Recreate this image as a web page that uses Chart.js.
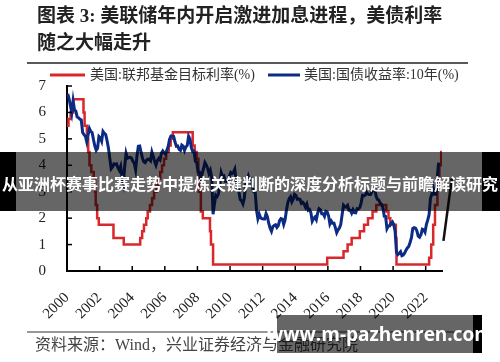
<!DOCTYPE html>
<html>
<head>
<meta charset="utf-8">
<script src="https://cdn.jsdelivr.net/npm/chart.js@4.4.1/dist/chart.umd.min.js"></script>
<style>
  html, body { margin: 0; padding: 0; background: #fff; }
  #wrap { width: 500px; height: 362px; position: relative; }
</style>
</head>
<body>
<div id="wrap"><canvas id="c" width="500" height="362"></canvas></div>
<script>
const titleLines = ['图表 3: 美联储年内开启激进加息进程，美债利率', '随之大幅走升'];
const sourceText = '资料来源：Wind，兴业证券经济与金融研究院';
const bannerText = '从亚洲杯赛事比赛走势中提炼关键判断的深度分析标题与前瞻解读研究';
const siteText = 'www.m-pazhenren.com';
const seriesNames = ['美国:联邦基金目标利率(%)', '美国:国债收益率:10年(%)'];

// fed funds target: date of change (decimal year) and new level
const fedDates = [2000.0, 2000.09, 2000.22, 2000.38, 2001.01, 2001.08, 2001.22, 2001.3, 2001.38, 2001.49,
  2001.64, 2001.72, 2001.76, 2001.85, 2001.95, 2002.85, 2003.48, 2004.49, 2004.61, 2004.72,
  2004.86, 2004.95, 2005.09, 2005.22, 2005.34, 2005.49, 2005.61, 2005.72, 2005.83, 2005.95,
  2006.08, 2006.24, 2006.36, 2006.49, 2007.71, 2007.83, 2007.95, 2008.06, 2008.08, 2008.21,
  2008.33, 2008.77, 2008.83, 2008.96, 2015.96, 2016.96, 2017.21, 2017.46, 2017.96, 2018.22,
  2018.46, 2018.74, 2018.97, 2019.58, 2019.72, 2019.83, 2020.17, 2020.21, 2022.21, 2022.34,
  2022.46, 2022.57, 2022.72, 2022.84, 2022.95, 2022.99];
const fedRates = [5.5, 5.75, 6.0, 6.5, 6.0, 5.5, 5.0, 4.5, 4.0, 3.75,
  3.5, 3.0, 2.5, 2.0, 1.75, 1.25, 1.0, 1.25, 1.5, 1.75,
  2.0, 2.25, 2.5, 2.75, 3.0, 3.25, 3.5, 3.75, 4.0, 4.25,
  4.5, 4.75, 5.0, 5.25, 4.75, 4.5, 4.25, 3.5, 3.0, 2.25,
  2.0, 1.5, 1.0, 0.25, 0.5, 0.75, 1.0, 1.25, 1.5, 1.75,
  2.0, 2.25, 2.5, 2.25, 2.0, 1.75, 1.25, 0.25, 0.5, 1.0,
  1.75, 2.5, 3.25, 4.0, 4.5, 4.5];

// 10y treasury, monthly from Jan 2000
const ustStartYear = 2000;
const ust2000s = [
  6.70, 6.52, 6.26, 5.99, 6.44, 6.10, 6.05, 5.83, 5.80, 5.74, 5.72, 5.24,
  5.16, 5.10, 4.89, 5.14, 5.39, 5.28, 5.24, 4.97, 4.73, 4.57, 4.65, 5.09,
  5.04, 4.91, 5.28, 5.21, 5.16, 4.93, 4.65, 4.26, 3.87, 3.94, 4.05, 4.03,
  4.05, 3.90, 3.81, 3.96, 3.57, 3.33, 3.98, 4.45, 4.27, 4.29, 4.30, 4.27,
  4.15, 4.08, 3.83, 4.35, 4.72, 4.73, 4.50, 4.28, 4.13, 4.10, 4.19, 4.23,
  4.22, 4.17, 4.50, 4.34, 4.14, 4.00, 4.18, 4.26, 4.20, 4.46, 4.54, 4.47,
  4.42, 4.57, 4.72, 4.99, 5.11, 5.11, 5.09, 4.88, 4.72, 4.73, 4.60, 4.56,
  4.76, 4.72, 4.56, 4.69, 4.75, 5.10, 5.00, 4.67, 4.52, 4.53, 4.15, 4.10,
  3.74, 3.74, 3.51, 3.68, 3.88, 4.10, 4.01, 3.89, 3.69, 3.81, 3.53, 2.15,
  2.52, 2.87, 2.82, 2.93, 3.29, 3.72, 3.56, 3.59, 3.40, 3.39, 3.40, 3.59];
const ust2010s = [
  3.73, 3.69, 3.73, 3.85, 3.42, 3.20, 3.01, 2.70, 2.65, 2.54, 2.76, 3.29,
  3.39, 3.58, 3.41, 3.46, 3.17, 3.00, 3.00, 2.30, 1.98, 2.15, 2.01, 1.98,
  1.97, 1.97, 2.17, 2.05, 1.80, 1.62, 1.50, 1.68, 1.72, 1.75, 1.65, 1.72,
  1.91, 1.98, 1.96, 1.76, 1.93, 2.30, 2.58, 2.74, 2.81, 2.62, 2.72, 2.90,
  2.86, 2.71, 2.72, 2.71, 2.56, 2.60, 2.54, 2.42, 2.53, 2.30, 2.33, 2.21,
  1.88, 1.98, 2.04, 1.94, 2.20, 2.36, 2.32, 2.17, 2.17, 2.07, 2.26, 2.24,
  2.09, 1.78, 1.89, 1.81, 1.81, 1.64, 1.45, 1.56, 1.63, 1.76, 2.14, 2.49,
  2.43, 2.42, 2.48, 2.30, 2.30, 2.19, 2.32, 2.21, 2.20, 2.36, 2.35, 2.40,
  2.58, 2.86, 2.84, 2.87, 2.98, 2.91, 2.89, 2.89, 3.00, 3.15, 3.12, 2.83,
  2.71, 2.68, 2.57, 2.53, 2.40, 2.07, 2.06, 1.60, 1.70, 1.71, 1.81, 1.86];
const ust2020s = [
  1.76, 1.50, 0.70, 0.62, 0.67, 0.73, 0.58, 0.60, 0.68, 0.79, 0.87, 0.93,
  1.08, 1.26, 1.61, 1.64, 1.62, 1.52, 1.32, 1.28, 1.37, 1.58, 1.56, 1.47,
  1.76, 1.93, 2.13, 2.75, 2.90, 3.14, 2.90, 2.90, 3.52, 4.10];

// stray black stroke at the right edge of the picture
const strayX = [2023.09, 2023.6];
const strayY = [1.14, 3.5];

const ustValues = ust2000s.concat(ust2010s, ust2020s);
const ustPoints = ustValues.map((v, i) => ({ x: ustStartYear + (i + 0.5) / 12, y: v }));
const fedPoints = fedDates.map((d, i) => ({ x: d, y: fedRates[i] }));
const strayPoints = strayX.map((d, i) => ({ x: d, y: strayY[i] }));

const RED = '#d9282c';
const BLUE = '#0c2b84';
const serif = '"Liberation Serif", "Noto Sans CJK SC", serif';

function line(ctx, x1, y1, x2, y2) {
  ctx.beginPath();
  ctx.moveTo(x1, y1);
  ctx.lineTo(x2, y2);
  ctx.stroke();
}

const decor = {
  id: 'decor',
  afterDraw(chart) {
    const ctx = chart.ctx;
    const { left, bottom } = chart.chartArea;
    const xs = chart.scales.x, ys = chart.scales.y;
    ctx.save();

    // inward tick marks
    ctx.strokeStyle = '#000';
    ctx.lineWidth = 1.5;
    xs.ticks.forEach(t => {
      const px = xs.getPixelForValue(t.value);
      line(ctx, px, bottom, px, bottom - 5);
    });
    ys.ticks.forEach(t => {
      const py = ys.getPixelForValue(t.value);
      line(ctx, left, py, left + 5, py);
    });

    // title
    ctx.fillStyle = '#222';
    ctx.textBaseline = 'middle';
    ctx.textAlign = 'left';
    ctx.font = 'bold 19px ' + serif;
    ctx.fillText(titleLines[0], 37, 17);
    ctx.fillText(titleLines[1], 37, 44);
    ctx.lineWidth = 1.5;
    ctx.strokeStyle = '#222';
    line(ctx, 27, 63, 468, 63);

    // legend
    const legendItems = [
      { name: seriesNames[0], color: RED, x0: 50, x1: 85, tx: 90 },
      { name: seriesNames[1], color: BLUE, x0: 268, x1: 300, tx: 304 }
    ];
    ctx.font = '14px ' + serif;
    legendItems.forEach(it => {
      ctx.strokeStyle = it.color;
      ctx.lineWidth = 3;
      line(ctx, it.x0, 75, it.x1, 75);
      ctx.fillStyle = '#333';
      ctx.fillText(it.name, it.tx, 75);
    });

    // footer
    ctx.strokeStyle = '#333';
    ctx.lineWidth = 1.2;
    line(ctx, 27, 332, 468, 332);
    ctx.fillStyle = '#444';
    ctx.font = '16px ' + serif;
    ctx.fillText(sourceText, 35, 346);

    // watermark banners
    ctx.fillStyle = 'rgba(0,0,0,0.6)';
    ctx.fillRect(16, 152, 466, 59);
    ctx.fillStyle = '#000';
    ctx.fillRect(0, 152, 16, 59);
    ctx.fillRect(482, 152, 18, 59);
    ctx.fillStyle = '#fff';
    ctx.textAlign = 'center';
    ctx.font = 'bold 16px "Noto Sans CJK SC", sans-serif';
    ctx.fillText(bannerText, 250, 184);

    ctx.fillStyle = 'rgba(0,0,0,0.6)';
    ctx.fillRect(277, 315, 196, 38);
    ctx.fillStyle = '#000';
    ctx.fillRect(473, 315, 9, 38);
    ctx.fillStyle = '#fff';
    ctx.font = 'bold 19px "Open Sans", "Noto Sans", sans-serif';
    ctx.fillText(siteText, 380, 336);
    ctx.restore();
  }
};

new Chart(document.getElementById('c'), {
  type: 'line',
  data: {
    datasets: [
      {
        label: seriesNames[0],
        data: fedPoints,
        borderColor: RED,
        borderWidth: 2.5,
        stepped: 'before',
        pointRadius: 0,
        order: 2
      },
      {
        label: seriesNames[1],
        data: ustPoints,
        borderColor: BLUE,
        borderWidth: 3,
        pointRadius: 0,
        tension: 0,
        order: 1
      },
      {
        label: '',
        data: strayPoints,
        borderColor: '#111',
        borderWidth: 2.5,
        pointRadius: 0,
        clip: false,
        order: 0
      }
    ]
  },
  options: {
    responsive: false,
    animation: false,
    layout: { padding: { top: 86, left: 0, right: 58, bottom: 40 } },
    plugins: { legend: { display: false }, title: { display: false }, tooltip: { enabled: false } },
    scales: {
      x: {
        type: 'linear',
        min: 2000,
        max: 2023,
        grid: { display: false },
        border: { display: true, color: '#000', width: 2 },
        afterFit: s => { s.height = 51; },
        ticks: {
          stepSize: 2,
          includeBounds: false,
          autoSkip: false,
          maxRotation: 45,
          minRotation: 45,
          padding: 10,
          color: '#222',
          font: { family: serif, size: 15 },
          callback: v => String(v)
        }
      },
      y: {
        min: 0,
        max: 7,
        grid: { display: false },
        border: { display: true, color: '#000', width: 2 },
        afterFit: s => { s.width = 67; },
        ticks: {
          stepSize: 1,
          padding: 13,
          color: '#222',
          font: { family: serif, size: 15 },
          callback: v => String(v)
        }
      }
    }
  },
  plugins: [decor]
});
</script>
</body>
</html>
